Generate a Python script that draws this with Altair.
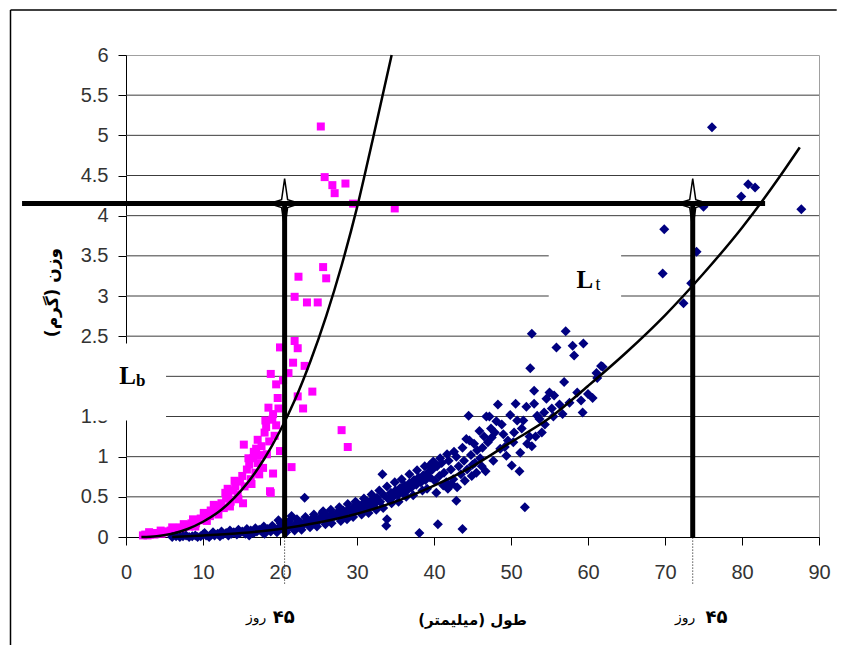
import altair as alt
import pandas as pd

# ---------------- data ----------------
x_ticks = [0, 10, 20, 30, 40, 50, 60, 70, 80, 90]
y_ticks = [0, 0.5, 1, 1.5, 2, 2.5, 3, 3.5, 4, 4.5, 5, 5.5, 6]
grid_levels = [0.5, 1, 1.5, 2, 2.5, 3, 3.5, 4, 4.5, 5, 5.5]

# pink squares (length mm, weight g)
pink_points = [
    (2.2, 0.02), (2.5, 0.03), (2.8, 0.02), (3.1, 0.03), (3.4, 0.04), (3.7, 0.03), (4.0, 0.05), (4.3, 0.05),
    (4.6, 0.04), (4.9, 0.06), (5.2, 0.07), (5.5, 0.06), (5.8, 0.08), (6.1, 0.09), (6.4, 0.08), (6.7, 0.1),
    (7.0, 0.12), (7.3, 0.1), (7.6, 0.13), (7.9, 0.15), (8.2, 0.13), (8.5, 0.17), (8.8, 0.19), (9.1, 0.17),
    (9.4, 0.21), (9.7, 0.23), (10.0, 0.21), (10.3, 0.26), (10.6, 0.29), (10.9, 0.26), (11.2, 0.32), (11.5, 0.35),
    (11.8, 0.31), (12.1, 0.39), (12.4, 0.42), (12.7, 0.36), (13.0, 0.48), (13.3, 0.52), (13.6, 0.44), (13.9, 0.58),
    (14.2, 0.63), (14.5, 0.53), (14.8, 0.69), (15.1, 0.76), (15.2, 0.42), (15.3, 1.15), (15.4, 0.63), (15.7, 0.84),
    (16.0, 0.9), (16.2, 0.72), (16.5, 0.98), (16.6, 1.06), (16.8, 0.8), (17.1, 1.21), (17.1, 0.92), (17.4, 1.02),
    (17.6, 1.13), (17.8, 0.86), (18.0, 1.3), (18.2, 1.37), (18.3, 1.03), (18.5, 1.61), (18.6, 1.19), (18.7, 0.57),
    (18.8, 2.03), (18.8, 0.55), (19.0, 1.46), (19.1, 1.53), (19.1, 0.79), (19.3, 1.26), (19.5, 1.39), (19.7, 1.73),
    (19.8, 1.6), (20.0, 2.36), (20.0, 1.07), (20.4, 1.95), (21.1, 2.04), (21.5, 0.87), (21.7, 2.17), (21.9, 2.44),
    (21.9, 2.99), (22.3, 2.35), (22.3, 1.75), (22.4, 3.24), (23.0, 1.6), (23.2, 2.13), (23.5, 2.92), (24.2, 1.81),
    (24.9, 2.92), (25.3, 5.11), (25.6, 3.36), (25.8, 4.48), (26.0, 3.22), (26.8, 4.38), (27.1, 4.28), (28.0, 1.33),
    (28.5, 4.4), (28.8, 1.12), (29.5, 4.15), (34.9, 4.09),
    (9.0, 0.13), (10.5, 0.2), (12.0, 0.28), (13.5, 0.38), (14.6, 0.47), (16.3, 0.66), (17.3, 0.78), (11.0, 0.33),
    (12.9, 0.55), (14.1, 0.7), (16.9, 1.1), (19.5, 1.9), (3.0, 0.06), (4.5, 0.08), (6.0, 0.12), (7.5, 0.16),
    (8.7, 0.22), (10.1, 0.3), (11.4, 0.4), (13.2, 0.6), (15.9, 0.98), (18.1, 1.45),
]

# navy diamonds (length mm, weight g)
blue_points = [
    (6.0, 0.0), (6.5, 0.01), (7.0, 0.0), (7.4, 0.01), (7.8, 0.02), (8.2, 0.0), (8.6, 0.01), (9.0, 0.02),
    (9.3, 0.0), (9.7, 0.01), (10.0, 0.03), (10.4, 0.02), (10.8, 0.0), (11.1, 0.03), (11.5, 0.02), (11.9, 0.04),
    (12.2, 0.01), (12.6, 0.03),
    (13.0, 0.05), (13.3, 0.02), (13.7, 0.04), (14.0, 0.06), (14.4, 0.03), (14.8, 0.05), (15.1, 0.07), (15.5, 0.04),
    (15.9, 0.06), (16.2, 0.08), (16.6, 0.05), (17.0, 0.07), (17.3, 0.09), (17.7, 0.06), (18.0, 0.08), (18.4, 0.1),
    (18.8, 0.07), (19.1, 0.11), (19.5, 0.09), (19.8, 0.21), (19.9, 0.12),
    (20.3, 0.1), (20.6, 0.13), (20.8, 0.06), (21.0, 0.11), (21.3, 0.15), (21.5, 0.26), (21.7, 0.12), (22.0, 0.16),
    (22.4, 0.14), (22.7, 0.18), (22.8, 0.09), (23.0, 0.15), (23.2, 0.49), (23.4, 0.2), (23.7, 0.17), (24.0, 0.21),
    (24.3, 0.18), (24.6, 0.23), (24.8, 0.13), (25.0, 0.2), (25.3, 0.25), (25.6, 0.32), (25.8, 0.22), (26.1, 0.27),
    (26.4, 0.24), (26.7, 0.17), (26.8, 0.29), (27.1, 0.26), (27.5, 0.31), (27.8, 0.28), (28.2, 0.33), (28.5, 0.3),
    (28.7, 0.22), (28.9, 0.35), (29.2, 0.31), (29.6, 0.37), (29.9, 0.33),
    (30.2, 0.39), (30.5, 0.35), (30.6, 0.28), (30.8, 0.42), (31.1, 0.37), (31.4, 0.44), (31.7, 0.39), (32.0, 0.47),
    (32.3, 0.41), (32.5, 0.34), (32.6, 0.49), (33.0, 0.44), (33.3, 0.78), (33.5, 0.52), (33.8, 0.14), (33.9, 0.22),
    (34.1, 0.47), (34.4, 0.55), (34.5, 0.42), (34.7, 0.5), (35.0, 0.58), (35.3, 0.52), (35.6, 0.61), (35.9, 0.56),
    (36.2, 0.64), (36.4, 0.5), (36.5, 0.58), (36.8, 0.67), (37.1, 0.62), (37.4, 0.71), (37.7, 0.65), (38.0, 0.74),
    (38.1, 0.05), (38.3, 0.68), (38.5, 0.58), (38.6, 0.77), (38.9, 0.71), (39.2, 0.8), (39.4, 0.89), (39.5, 0.74),
    (39.8, 0.84),
    (40.1, 0.7), (40.3, 0.55), (40.4, 0.88), (40.5, 0.16), (40.7, 0.76), (41.0, 0.92), (41.3, 0.8), (41.6, 0.68),
    (41.8, 0.6), (41.9, 0.95), (42.2, 0.84), (42.5, 0.72), (42.9, 0.45), (42.9, 1.0), (43.0, 0.62), (43.2, 0.88),
    (43.5, 0.78), (43.7, 0.1), (43.7, 1.11), (43.9, 0.95), (44.0, 0.7), (44.2, 1.22), (44.3, 0.84), (44.5, 1.51),
    (44.6, 1.2), (44.8, 1.02), (45.0, 0.9), (45.3, 0.92), (45.6, 1.08), (45.9, 1.32), (46.0, 0.98), (46.3, 1.11),
    (46.7, 0.82), (46.8, 1.5), (47.0, 1.18), (47.2, 1.5), (47.5, 1.24), (47.7, 0.95), (47.9, 1.3), (48.1, 1.44),
    (48.3, 1.65), (48.6, 1.1), (49.0, 1.28), (49.4, 1.01), (49.6, 1.2), (49.9, 1.52),
    (50.1, 0.89), (50.4, 1.3), (50.6, 1.66), (50.8, 1.45), (51.1, 0.82), (51.2, 1.05), (51.4, 1.35), (51.8, 0.37),
    (52.0, 1.62), (52.1, 1.16), (52.4, 1.25), (52.5, 2.1), (52.7, 2.53), (52.7, 1.13), (53.0, 1.82), (53.0, 1.66),
    (53.4, 1.51), (53.7, 1.47), (54.0, 1.3), (54.3, 1.55), (54.6, 1.72), (55.0, 1.8), (55.3, 1.6), (55.6, 1.76),
    (55.9, 2.36), (56.3, 1.65), (56.7, 1.53), (56.9, 1.93), (57.1, 2.56), (57.6, 1.67), (58.0, 2.38), (58.2, 2.26),
    (58.6, 1.8), (59.1, 1.7), (59.3, 1.55), (59.4, 2.41), (60.0, 1.78), (60.6, 1.73), (61.1, 2.04), (61.2, 1.98),
    (61.7, 2.13), (61.9, 2.12),
    (69.7, 3.28), (69.9, 3.83), (72.4, 2.91), (73.4, 3.16), (74.1, 3.55), (75.0, 4.11), (76.1, 5.10), (79.9, 4.24),
    (80.8, 4.39), (81.7, 4.35), (87.7, 4.08),
    # denser band
    (10.2, 0.05), (11.3, 0.06), (12.4, 0.07), (13.5, 0.08), (14.6, 0.09), (15.7, 0.1), (16.8, 0.11), (17.9, 0.13),
    (19.0, 0.14), (16.0, 0.02), (18.0, 0.04), (19.6, 0.06),
    (20.1, 0.17), (21.2, 0.2), (22.2, 0.22), (23.3, 0.25), (24.4, 0.28), (25.5, 0.3), (26.6, 0.34), (27.7, 0.37),
    (28.8, 0.41), (29.8, 0.44), (21.9, 0.08), (23.9, 0.12), (25.9, 0.16), (27.9, 0.2), (29.5, 0.25),
    (30.9, 0.48), (31.9, 0.53), (32.9, 0.58), (33.9, 0.63), (34.9, 0.68), (35.8, 0.72), (36.8, 0.78), (37.8, 0.83),
    (38.8, 0.88), (39.9, 0.94), (40.8, 0.98), (41.7, 1.03), (42.6, 1.06), (31.5, 0.3), (33.4, 0.36), (35.4, 0.44),
    (37.3, 0.52), (39.1, 0.6), (41.2, 0.64), (42.3, 0.66), (44.9, 0.76), (45.5, 0.8), (46.2, 0.88), (30.0, 0.42),
    (32.1, 0.38),
    (45.2, 1.16), (46.5, 1.25), (47.4, 1.35), (48.8, 1.4), (49.2, 1.12), (50.3, 1.18), (51.6, 1.45), (53.2, 1.25),
    (54.4, 1.4), (55.5, 1.5),
]

# fitted trend curves
pink_curve_len = [2, 4, 6, 8, 10, 12, 14, 16, 18, 20, 22, 24, 26, 28, 30, 32, 34.5]
pink_curve_wt = [0.0, 0.01, 0.04, 0.1, 0.19, 0.31, 0.48, 0.7, 0.98, 1.32, 1.72, 2.2, 2.75, 3.38, 4.1, 4.93, 6.0]
blue_curve_len = [6, 10, 15, 20, 25, 30, 35, 40, 45, 50, 55, 60, 65, 70, 75, 80, 85, 87.5]
blue_curve_wt = [0.0, 0.02, 0.05, 0.1, 0.18, 0.29, 0.44, 0.64, 0.88, 1.18, 1.48, 1.88, 2.3, 2.76, 3.28, 3.85, 4.5, 4.85]

# reference lines
ref_weight = 4.15
ref_line_start = -13.5
ref_line_end = 83.0
cut_lengths = [20.6, 73.6]
dotted_bottom = -0.58

# outer figure border (top and left edges, in data units)
border_left = -15.0
border_right = 92.3
border_top = 6.56
border_bottom = -1.35

# texts
RLM = "\u200f"
x_title = "طول (میلیمتر)" + RLM
y_title = "وزن (گرم)" + RLM
day_word = "روز"
day_num = "۴۵"

# ---------------- chart ----------------
xs = alt.Scale(domain=[0, 90], nice=False, zero=False)
ys = alt.Scale(domain=[0, 6], nice=False, zero=False)

x_axis = alt.Axis(
    values=x_ticks, grid=False, labelFlush=False, labelOverlap=False,
    tickSize=8, tickColor="black", domainColor="black", labelPadding=17,
    labelFont="Liberation Sans", labelFontSize=20, labelColor="#333333",
    title=x_title, titleFont="DejaVu Sans", titleFontSize=15, titleFontWeight="bold",
    titleColor="black", titleX=346, titleY=82, titleAlign="center", titleBaseline="middle",
)
y_axis = alt.Axis(
    values=y_ticks, grid=False, format="~g", labelFlush=False, labelOverlap=False,
    tickSize=8, tickColor="black", domainColor="black", labelPadding=10,
    labelFont="Liberation Sans", labelFontSize=20, labelColor="#333333",
    title=y_title, titleFont="DejaVu Sans", titleFontSize=17, titleFontWeight="bold",
    titleColor="black", titleX=-74, titleY=237, titleAngle=270,
    titleAlign="center", titleBaseline="middle",
)


def X(field="L"):
    return alt.X(f"{field}:Q", scale=xs, axis=x_axis)


def Y(field="W"):
    return alt.Y(f"{field}:Q", scale=ys, axis=y_axis)


pink_df = pd.DataFrame(pink_points, columns=["L", "W"])
blue_df = pd.DataFrame(blue_points, columns=["L", "W"])
pink_curve_df = pd.DataFrame({"L": pink_curve_len, "W": pink_curve_wt})
blue_curve_df = pd.DataFrame({"L": blue_curve_len, "W": blue_curve_wt})

border_top_line = alt.Chart(pd.DataFrame({"L": [border_left], "L2": [border_right], "W": [border_top]})).mark_rule(
    color="black", strokeWidth=1.5
).encode(x=X(), x2="L2:Q", y=Y())
border_left_line = alt.Chart(pd.DataFrame({"L": [border_left], "W": [border_bottom], "W2": [border_top]})).mark_rule(
    color="black", strokeWidth=1.5
).encode(x=X(), y=Y(), y2="W2:Q")

grid = alt.Chart(pd.DataFrame({"W": grid_levels, "L": [0] * len(grid_levels), "L2": [90] * len(grid_levels)})).mark_rule(
    color="#3c3c3c", strokeWidth=1
).encode(x=X(), x2="L2:Q", y=Y())

boxes = alt.Chart(pd.DataFrame({"L": [-4.7, 54.9], "L2": [5.2, 64.3], "W": [1.45, 2.6], "W2": [2.41, 3.85]})).mark_rect(
    color="white"
).encode(x=X(), x2="L2:Q", y=Y(), y2="W2:Q")

pink = alt.Chart(pink_df).mark_point(shape="square", filled=True, size=64, color="#FF00FF", opacity=1).encode(
    x=X(), y=Y()
)
blue = alt.Chart(blue_df).mark_point(shape="diamond", filled=True, size=100, color="#000080", opacity=1).encode(
    x=X(), y=Y()
)

pink_curve = alt.Chart(pink_curve_df).mark_line(color="black", strokeWidth=2.5, interpolate="monotone").encode(
    x=X(), y=Y()
)
blue_curve = alt.Chart(blue_curve_df).mark_line(color="black", strokeWidth=2.5, interpolate="monotone").encode(
    x=X(), y=Y()
)

star_path = ("M0,-1 L0.12,-0.16 L0.62,0 L0.12,0.16 L0,1 "
             "L-0.12,0.16 L-0.62,0 L-0.12,-0.16 Z")
stars = alt.Chart(pd.DataFrame({"L": cut_lengths, "W": [ref_weight] * 2})).mark_point(
    shape=star_path, size=2500, filled=True, fill="white", stroke="black", strokeWidth=1.5, opacity=1
).encode(x=X(), y=Y())

hline = alt.Chart(pd.DataFrame({"L": [ref_line_start], "L2": [ref_line_end], "W": [ref_weight]})).mark_rule(
    color="black", strokeWidth=5
).encode(x=X(), x2="L2:Q", y=Y())

vlines = alt.Chart(pd.DataFrame({"L": cut_lengths, "W": [0, 0], "W2": [ref_weight] * 2})).mark_rule(
    color="black", strokeWidth=5
).encode(x=X(), y=Y(), y2="W2:Q")

dotted = alt.Chart(pd.DataFrame({"L": cut_lengths, "W": [dotted_bottom] * 2, "W2": [0, 0]})).mark_rule(
    color="black", strokeWidth=1, strokeDash=[1, 2]
).encode(x=X(), y=Y(), y2="W2:Q")

big_L = alt.Chart(pd.DataFrame({"L": [0.2, 59.6], "W": [1.91, 3.10], "t": ["L", "L"]})).mark_text(
    font="Liberation Serif", fontWeight="bold", fontSize=25, align="center", baseline="alphabetic", color="black"
).encode(x=X(), y=Y(), text="t:N")
sub_b = alt.Chart(pd.DataFrame({"L": [1.9], "W": [1.88], "t": ["b"]})).mark_text(
    font="Liberation Serif", fontWeight="bold", fontSize=17, align="center", baseline="alphabetic", color="black"
).encode(x=X(), y=Y(), text="t:N")
sub_t = alt.Chart(pd.DataFrame({"L": [61.3], "W": [3.08], "t": ["t"]})).mark_text(
    font="Liberation Serif", fontSize=18, align="center", baseline="alphabetic", color="black"
).encode(x=X(), y=Y(), text="t:N")

day_words = alt.Chart(pd.DataFrame({"L": [16.9, 72.6], "W": [-1.01, -1.01], "t": [day_word, day_word]})).mark_text(
    font="DejaVu Sans", fontSize=14, align="center", baseline="middle", color="black"
).encode(x=X(), y=Y(), text="t:N")
day_nums = alt.Chart(pd.DataFrame({"L": [20.5, 76.7], "W": [-1.01, -1.01], "t": [day_num, day_num]})).mark_text(
    font="DejaVu Sans", fontSize=18, fontWeight="bold", align="center", baseline="middle", color="black"
).encode(x=X(), y=Y(), text="t:N")

chart = alt.layer(
    border_top_line, border_left_line, grid, boxes, pink, blue, pink_curve, blue_curve, stars, hline, vlines,
    dotted, big_L, sub_b, sub_t, day_words, day_nums,
).properties(
    width=693, height=482,
    autosize=alt.AutoSizeParams(type="none"),
    padding={"left": 118, "top": 47, "right": 18, "bottom": 108},
).configure_view(stroke="#a0a0a0", strokeWidth=1)

chart.save("out.html", embed_options={"renderer": "svg", "actions": False})
